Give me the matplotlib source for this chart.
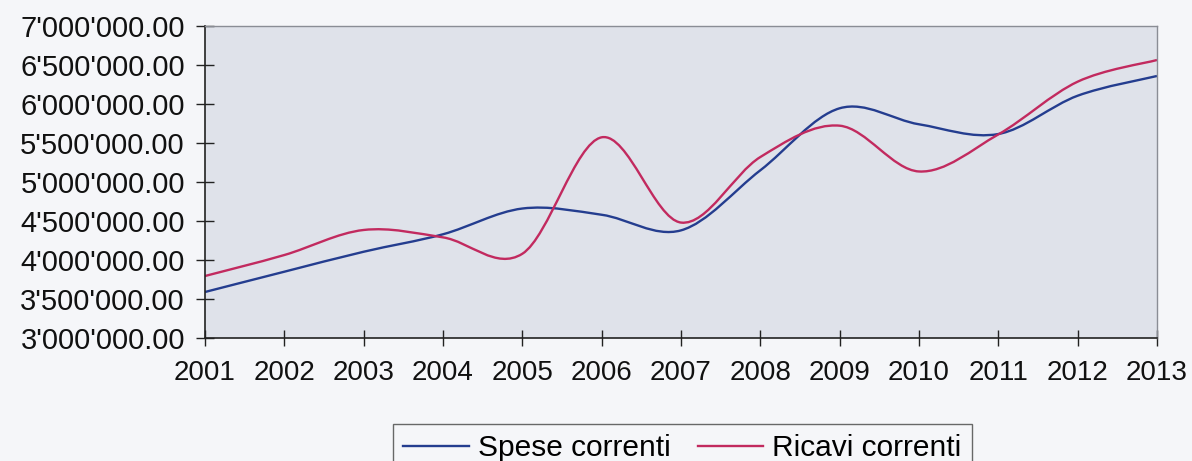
import matplotlib
matplotlib.use("Agg")
import matplotlib.pyplot as plt
from matplotlib.path import Path
from matplotlib.patches import PathPatch
from matplotlib.lines import Line2D
from matplotlib.ticker import FuncFormatter, MultipleLocator
import numpy as np

years = [2001, 2002, 2003, 2004, 2005, 2006, 2007, 2008, 2009, 2010, 2011, 2012, 2013]
spese = [3590000, 3850000, 4106000, 4330000, 4660000, 4580000, 4380000, 5150000,
         5945000, 5740000, 5615000, 6106000, 6359000]
ricavi = [3795000, 4064000, 4385000, 4290000, 4080000, 5573000, 4480000, 5320000,
          5722000, 5135000, 5610000, 6286000, 6564000]
series_names = ["Spese correnti", "Ricavi correnti"]
colors = ["#243d8f", "#c22a5f"]

plt.rcParams['font.family'] = ['Liberation Sans', 'DejaVu Sans']

fig = plt.figure(figsize=(11.92, 4.61), dpi=100, facecolor="#f5f6f9")
ax = fig.add_axes([0.172, 0.2668, 0.7986, 0.6768])
ax.set_facecolor("#dfe2ea")


def smooth_path(xs, ys):
    x = np.asarray(xs, float)
    y = np.asarray(ys, float)
    pts = np.column_stack([x, y])
    n = len(pts)
    verts = [pts[0]]
    codes = [Path.MOVETO]
    for i in range(n - 1):
        p0 = pts[i - 1] if i > 0 else pts[i]
        p1 = pts[i]
        p2 = pts[i + 1]
        p3 = pts[i + 2] if i + 2 < n else pts[i + 1]
        c1 = p1 + (p2 - p0) / 6.0
        c2 = p2 - (p3 - p1) / 6.0
        verts += [c1, c2, p2]
        codes += [Path.CURVE4] * 3
    return Path(verts, codes)


for vals, col in zip([spese, ricavi], colors):
    patch = PathPatch(smooth_path(years, vals), fill=False, edgecolor=col,
                      linewidth=1.7, transform=ax.transData)
    ax.add_patch(patch)

ax.set_xlim(2001, 2013)
ax.set_ylim(3000000, 7000000)
ax.set_xticks(years)
ax.set_xticklabels([str(y) for y in years])
ax.yaxis.set_major_locator(MultipleLocator(500000))
ax.yaxis.set_major_formatter(FuncFormatter(lambda v, p: f"{v:,.2f}".replace(",", "'")))

ax.tick_params(axis='y', direction='inout', length=13, width=1.0, colors="#222222",
               labelsize=21, labelcolor="#111111", pad=8)
ax.tick_params(axis='x', direction='inout', length=12, width=1.0, colors="#222222",
               labelsize=20, labelcolor="#111111", pad=10)

for side in ['left', 'bottom']:
    ax.spines[side].set_color("#222222")
    ax.spines[side].set_linewidth(1.2)
for side in ['top', 'right']:
    ax.spines[side].set_color("#8a8d95")
    ax.spines[side].set_linewidth(1.0)

handles = [Line2D([0], [0], color=c, linewidth=1.7) for c in colors]
leg = fig.legend(handles, series_names, loc='upper left',
                 bbox_to_anchor=(393 / 1192, 1 - 424 / 461),
                 ncol=2, fontsize=21.5, frameon=True, fancybox=False, edgecolor="#444444",
                 facecolor="#f5f6f9", handlelength=2.2, handletextpad=0.3, columnspacing=0.9,
                 borderpad=0.35, borderaxespad=0)
leg.get_frame().set_linewidth(1.0)

fig.savefig("out.png", dpi=100, facecolor=fig.get_facecolor())
